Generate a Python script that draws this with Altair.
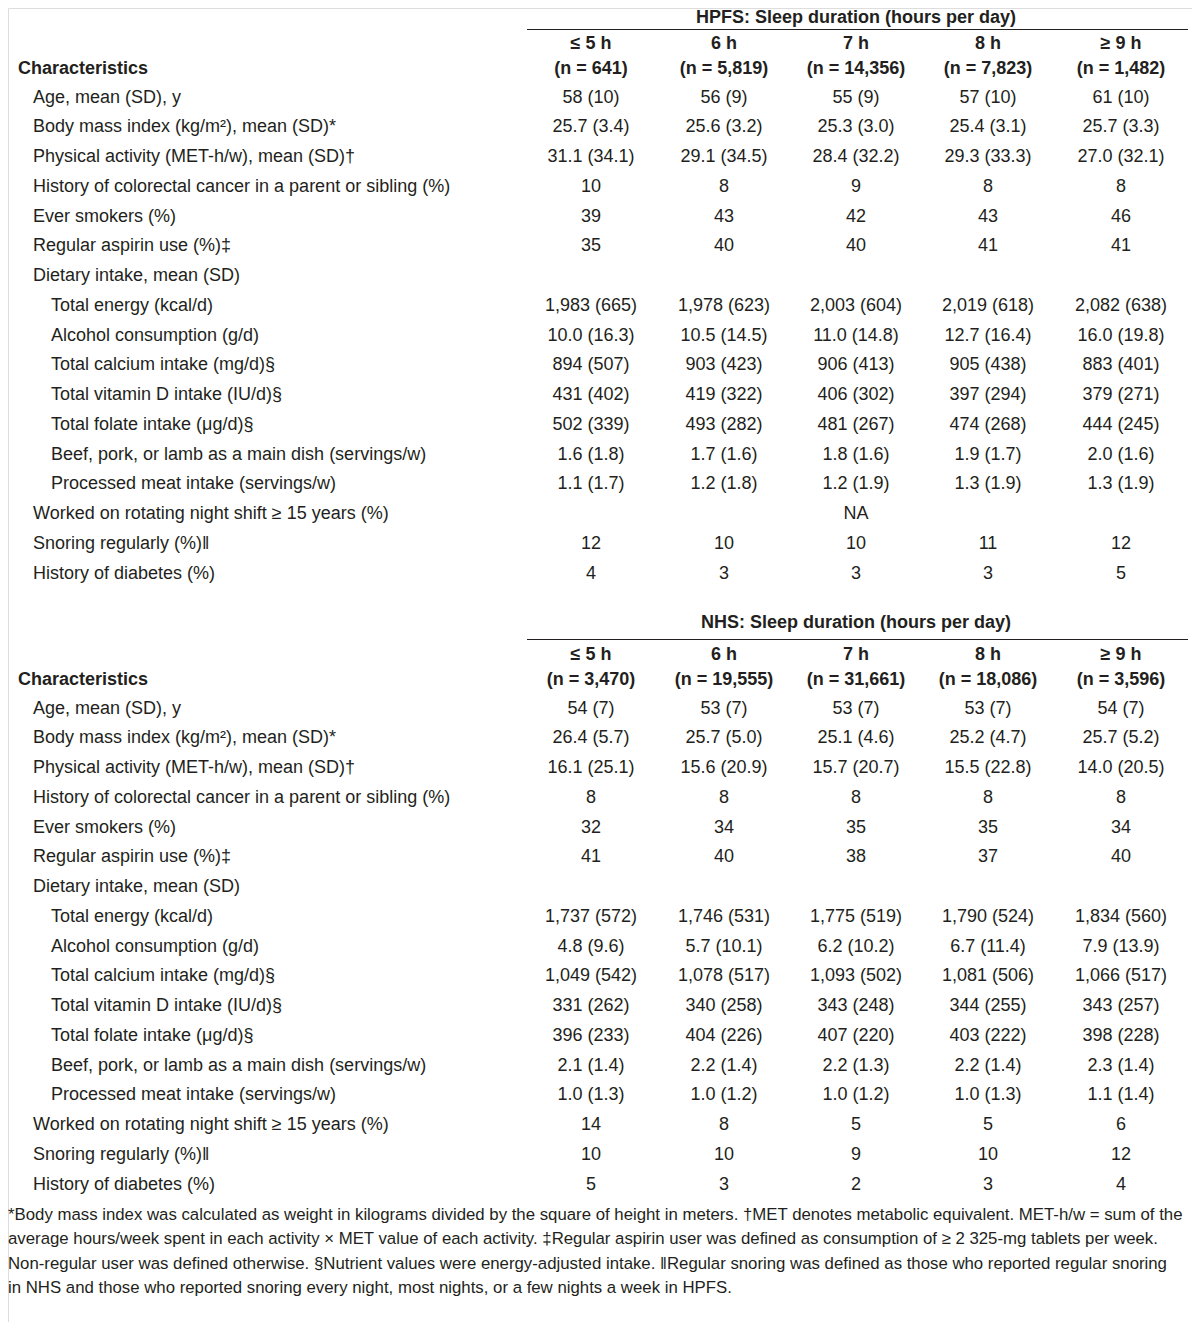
import altair as alt
import pandas as pd

# ---------------- data ----------------
groups = ["≤ 5 h", "6 h", "7 h", "8 h", "≥ 9 h"]
hpfs_n = ["(n = 641)", "(n = 5,819)", "(n = 14,356)", "(n = 7,823)", "(n = 1,482)"]
nhs_n = ["(n = 3,470)", "(n = 19,555)", "(n = 31,661)", "(n = 18,086)", "(n = 3,596)"]

labels = [
    "Age, mean (SD), y",
    "Body mass index (kg/m²), mean (SD)*",
    "Physical activity (MET-h/w), mean (SD)†",
    "History of colorectal cancer in a parent or sibling (%)",
    "Ever smokers (%)",
    "Regular aspirin use (%)‡",
    "Dietary intake, mean (SD)",
    "Total energy (kcal/d)",
    "Alcohol consumption (g/d)",
    "Total calcium intake (mg/d)§",
    "Total vitamin D intake (IU/d)§",
    "Total folate intake (μg/d)§",
    "Beef, pork, or lamb as a main dish (servings/w)",
    "Processed meat intake (servings/w)",
    "Worked on rotating night shift ≥ 15 years (%)",
    "Snoring regularly (%)ǁ",
    "History of diabetes (%)",
]
label_level = [1, 1, 1, 1, 1, 1, 1, 2, 2, 2, 2, 2, 2, 2, 1, 1, 1]

hpfs_values = [
    ["58 (10)", "56 (9)", "55 (9)", "57 (10)", "61 (10)"],
    ["25.7 (3.4)", "25.6 (3.2)", "25.3 (3.0)", "25.4 (3.1)", "25.7 (3.3)"],
    ["31.1 (34.1)", "29.1 (34.5)", "28.4 (32.2)", "29.3 (33.3)", "27.0 (32.1)"],
    ["10", "8", "9", "8", "8"],
    ["39", "43", "42", "43", "46"],
    ["35", "40", "40", "41", "41"],
    ["", "", "", "", ""],
    ["1,983 (665)", "1,978 (623)", "2,003 (604)", "2,019 (618)", "2,082 (638)"],
    ["10.0 (16.3)", "10.5 (14.5)", "11.0 (14.8)", "12.7 (16.4)", "16.0 (19.8)"],
    ["894 (507)", "903 (423)", "906 (413)", "905 (438)", "883 (401)"],
    ["431 (402)", "419 (322)", "406 (302)", "397 (294)", "379 (271)"],
    ["502 (339)", "493 (282)", "481 (267)", "474 (268)", "444 (245)"],
    ["1.6 (1.8)", "1.7 (1.6)", "1.8 (1.6)", "1.9 (1.7)", "2.0 (1.6)"],
    ["1.1 (1.7)", "1.2 (1.8)", "1.2 (1.9)", "1.3 (1.9)", "1.3 (1.9)"],
    ["", "", "NA", "", ""],
    ["12", "10", "10", "11", "12"],
    ["4", "3", "3", "3", "5"],
]

nhs_values = [
    ["54 (7)", "53 (7)", "53 (7)", "53 (7)", "54 (7)"],
    ["26.4 (5.7)", "25.7 (5.0)", "25.1 (4.6)", "25.2 (4.7)", "25.7 (5.2)"],
    ["16.1 (25.1)", "15.6 (20.9)", "15.7 (20.7)", "15.5 (22.8)", "14.0 (20.5)"],
    ["8", "8", "8", "8", "8"],
    ["32", "34", "35", "35", "34"],
    ["41", "40", "38", "37", "40"],
    ["", "", "", "", ""],
    ["1,737 (572)", "1,746 (531)", "1,775 (519)", "1,790 (524)", "1,834 (560)"],
    ["4.8 (9.6)", "5.7 (10.1)", "6.2 (10.2)", "6.7 (11.4)", "7.9 (13.9)"],
    ["1,049 (542)", "1,078 (517)", "1,093 (502)", "1,081 (506)", "1,066 (517)"],
    ["331 (262)", "340 (258)", "343 (248)", "344 (255)", "343 (257)"],
    ["396 (233)", "404 (226)", "407 (220)", "403 (222)", "398 (228)"],
    ["2.1 (1.4)", "2.2 (1.4)", "2.2 (1.3)", "2.2 (1.4)", "2.3 (1.4)"],
    ["1.0 (1.3)", "1.0 (1.2)", "1.0 (1.2)", "1.0 (1.3)", "1.1 (1.4)"],
    ["14", "8", "5", "5", "6"],
    ["10", "10", "9", "10", "12"],
    ["5", "3", "2", "3", "4"],
]

section_titles = ["HPFS: Sleep duration (hours per day)", "NHS: Sleep duration (hours per day)"]
stub_title = "Characteristics"

footnotes = [
    "*Body mass index was calculated as weight in kilograms divided by the square of height in meters. †MET denotes metabolic equivalent. MET-h/w = sum of the",
    "average hours/week spent in each activity × MET value of each activity. ‡Regular aspirin user was defined as consumption of ≥ 2 325-mg tablets per week.",
    "Non-regular user was defined otherwise. §Nutrient values were energy-adjusted intake. ǁRegular snoring was defined as those who reported regular snoring",
    "in NHS and those who reported snoring every night, most nights, or a few nights a week in HPFS.",
]

# ---------------- layout (page pixel coordinates) ----------------
FONT = "Liberation Sans, Arial, Helvetica, sans-serif"
FS = 18
FS_FOOT = 16.8
COLOR = "#231f20"
col_x = [591, 724, 856, 988, 1121]
level_x = {0: 18, 1: 33, 2: 51}
row_step = 29.75
section_top = [0, 611]          # offset of each section
fn_top, fn_step = 1215, 24.3

values_rows, bold_rows, label_rows, rule_rows, foot_rows = [], [], [], [], []
for s, (title, ns, vals) in enumerate(zip(section_titles, [hpfs_n, nhs_n], [hpfs_values, nhs_values])):
    off = section_top[s]
    bold_rows.append(dict(x=(col_x[0] + col_x[-1]) / 2, y=off + (18 if s == 0 else 12), t=title))
    rule_rows.append(dict(x=527, x2=1188, y=off + 29.5 if s == 0 else off + 28.5))
    for g, n, cx in zip(groups, ns, col_x):
        bold_rows.append(dict(x=cx, y=off + 43.5, t=g))
        bold_rows.append(dict(x=cx, y=off + 68.5, t=n))
    label_rows.append(dict(x=level_x[0], y=off + 68.5, t=stub_title, w="bold"))
    for i, (lab, lvl, row) in enumerate(zip(labels, label_level, vals)):
        y = off + 97.5 + i * row_step
        label_rows.append(dict(x=level_x[lvl], y=y, t=lab, w="normal"))
        for cx, v in zip(col_x, row):
            if v:
                values_rows.append(dict(x=cx, y=y, t=v))
for k, line in enumerate(footnotes):
    foot_rows.append(dict(x=8, y=fn_top + k * fn_step, t=line))

W, H = 1184, 1314
xs = alt.Scale(domain=[8, 8 + W], range=[0, W])
ys = alt.Scale(domain=[8, 8 + H], range=[0, H])
X = lambda f="x": alt.X(f"{f}:Q", scale=xs, axis=None)
Y = alt.Y("y:Q", scale=ys, axis=None)

vals_layer = alt.Chart(pd.DataFrame(values_rows)).mark_text(
    font=FONT, fontSize=FS, align="center", baseline="middle", color=COLOR
).encode(x=X(), y=Y, text="t:N")

bold_layer = alt.Chart(pd.DataFrame(bold_rows)).mark_text(
    font=FONT, fontSize=FS, fontWeight="bold", align="center", baseline="middle", color=COLOR
).encode(x=X(), y=Y, text="t:N")

lab_df = pd.DataFrame(label_rows)
lab_layer = alt.Chart(lab_df[lab_df.w == "normal"]).mark_text(
    font=FONT, fontSize=FS, align="left", baseline="middle", color=COLOR
).encode(x=X(), y=Y, text="t:N")
stub_layer = alt.Chart(lab_df[lab_df.w == "bold"]).mark_text(
    font=FONT, fontSize=FS, fontWeight="bold", align="left", baseline="middle", color=COLOR
).encode(x=X(), y=Y, text="t:N")

rule_layer = alt.Chart(pd.DataFrame(rule_rows)).mark_rule(color=COLOR, strokeWidth=1).encode(
    x=X(), x2="x2:Q", y=Y
)

foot_layer = alt.Chart(pd.DataFrame(foot_rows)).mark_text(
    font=FONT, fontSize=FS_FOOT, align="left", baseline="middle", color=COLOR
).encode(x=X(), y=Y, text="t:N")

chart = alt.layer(
    rule_layer, bold_layer, stub_layer, lab_layer, vals_layer, foot_layer
).properties(
    width=W, height=H, padding=0, autosize=alt.AutoSizeParams(type="none")
).configure_view(strokeWidth=0, stroke="transparent").configure(background="white")

chart.save("out.html", embed_options={"renderer": "svg", "actions": False})
